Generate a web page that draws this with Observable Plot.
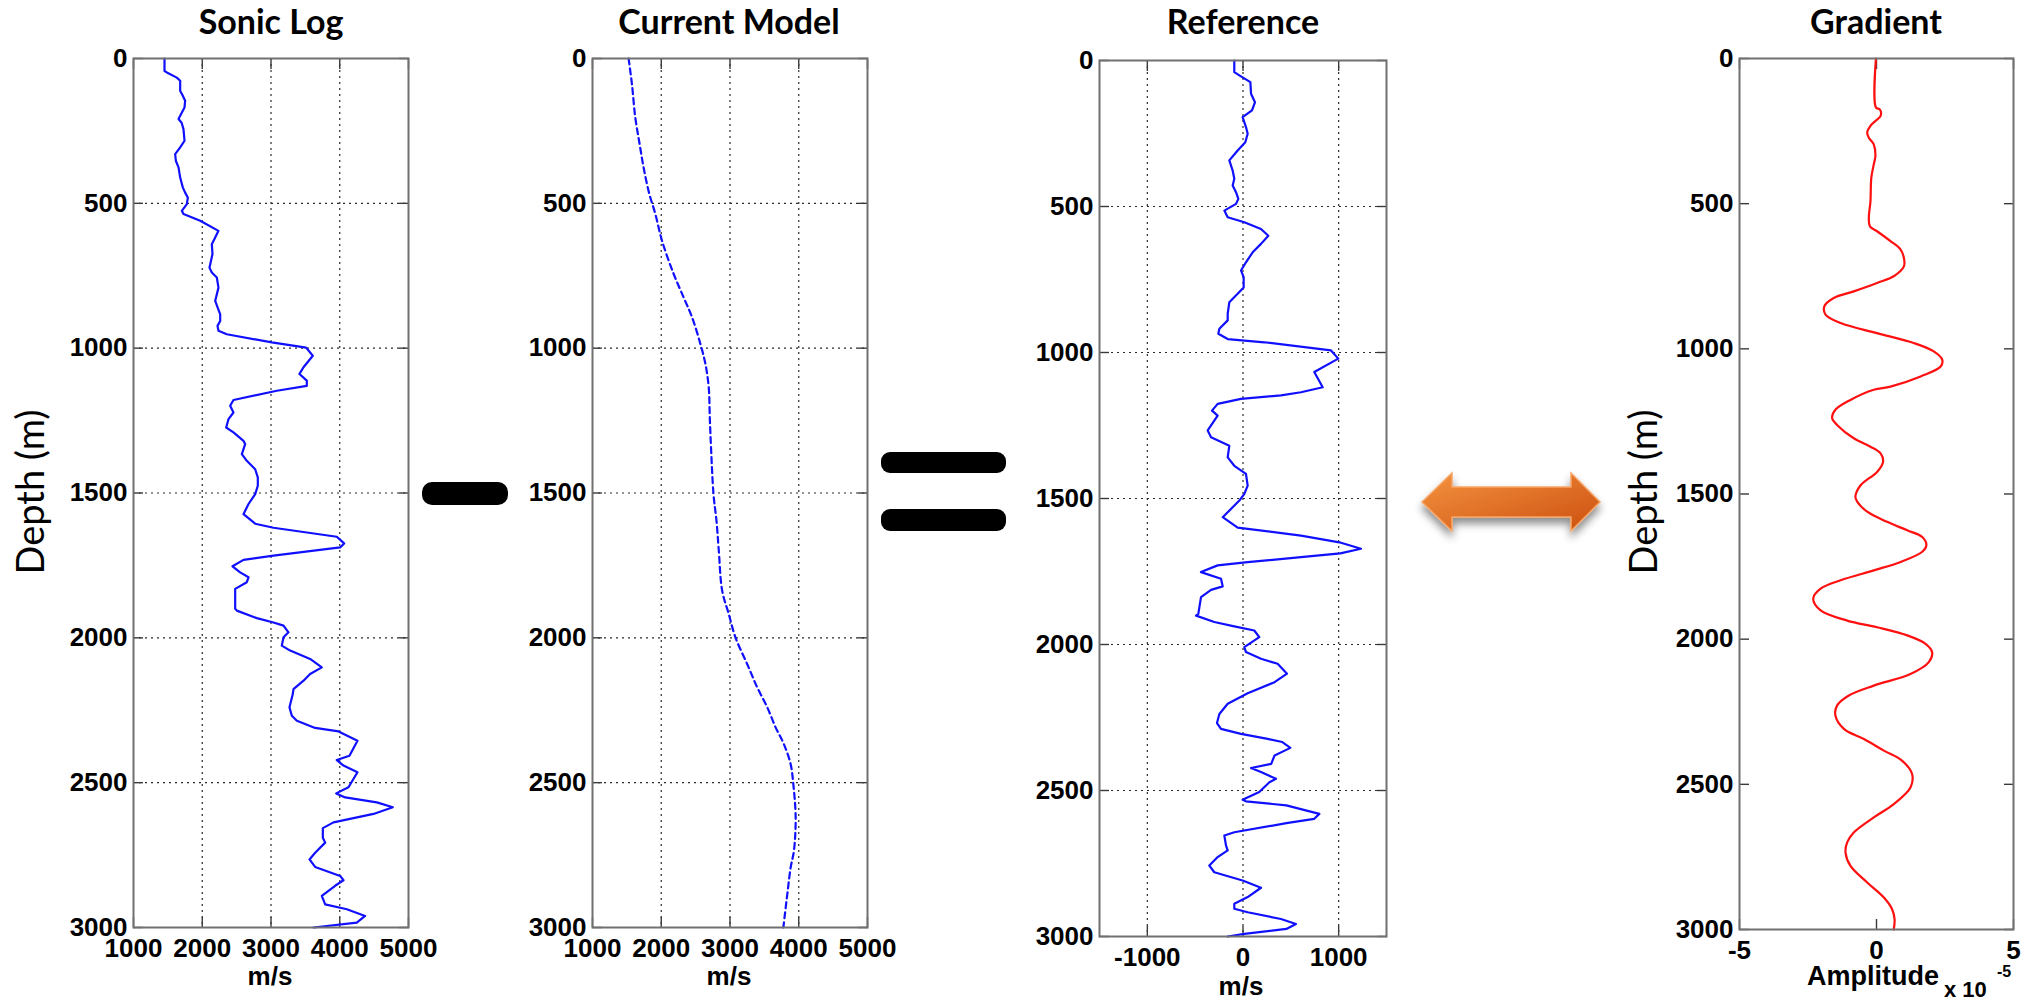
<!DOCTYPE html>
<html>
<head>
<meta charset="utf-8">
<script src="https://cdn.jsdelivr.net/npm/d3@7"></script>
<script src="https://cdn.jsdelivr.net/npm/@observablehq/plot@0.6"></script>
<style>
  html, body { margin: 0; padding: 0; background: #fff; }
  #page { position: relative; width: 2028px; height: 1004px; overflow: hidden; background: #fff; }
  .panel { position: absolute; top: 0; }
  #overlay { position: absolute; left: 0; top: 0; pointer-events: none; }
</style>
</head>
<body>
<div id="page"></div>
<script>
// ---- Axis ticks -------------------------------------------------------------
const depthTicks = [0, 500, 1000, 1500, 2000, 2500, 3000];
const depthGrid = [500, 1000, 1500, 2000, 2500];
const velocityTicks = [1000, 2000, 3000, 4000, 5000];
const velocityGrid = [2000, 3000, 4000];
const residualTicks = [-1000, 0, 1000];
const amplitudeTicks = [-5, 0, 5];

// ---- Sonic log (depth m, velocity m/s) -------------------------------------
const sonicDepth = [0, 43, 48, 66, 77, 112, 125, 146, 169, 198, 209, 222, 244, 284, 307, 330, 353, 376, 411, 445, 463, 480, 503, 526, 537, 560, 595, 618, 641, 675, 722, 739, 756, 791, 837, 883, 906, 923, 940, 952, 980, 998, 1026, 1066, 1089, 1112, 1130, 1147, 1179, 1199, 1222, 1245, 1274, 1291, 1320, 1331, 1366, 1389, 1418, 1446, 1475, 1504, 1538, 1573, 1606, 1620, 1651, 1674, 1688, 1716, 1731, 1753, 1774, 1791, 1808, 1831, 1900, 1906, 1932, 1947, 1958, 1981, 1998, 2027, 2044, 2073, 2102, 2125, 2148, 2177, 2194, 2240, 2269, 2286, 2311, 2323, 2355, 2407, 2422, 2441, 2464, 2516, 2537, 2551, 2568, 2585, 2608, 2637, 2657, 2690, 2707, 2742, 2765, 2791, 2822, 2837, 2856, 2891, 2920, 2937, 2960, 2983, 3000];
const sonicVelocity = [1451, 1451, 1485, 1630, 1679, 1679, 1710, 1751, 1742, 1679, 1655, 1700, 1727, 1742, 1679, 1606, 1616, 1655, 1679, 1717, 1751, 1790, 1776, 1703, 1727, 1970, 2236, 2188, 2139, 2149, 2105, 2139, 2212, 2236, 2188, 2261, 2261, 2222, 2236, 2357, 3012, 3511, 3608, 3473, 3414, 3521, 3521, 3085, 2454, 2406, 2454, 2382, 2348, 2454, 2600, 2624, 2576, 2648, 2770, 2808, 2808, 2770, 2673, 2600, 2770, 3036, 3957, 4064, 4006, 3036, 2600, 2440, 2551, 2673, 2648, 2479, 2479, 2503, 2794, 3036, 3182, 3254, 3182, 3157, 3279, 3569, 3739, 3569, 3473, 3327, 3317, 3269, 3303, 3376, 3642, 3982, 4258, 4141, 3957, 4054, 4258, 4127, 3948, 4079, 4539, 4772, 4491, 3909, 3754, 3754, 3788, 3642, 3560, 3642, 4006, 4054, 3933, 3739, 3788, 4103, 4369, 4248, 3620];

// ---- Current (smooth) velocity model -------------------------------------
const modelDepth = [0, 89, 203, 295, 376, 467, 537, 629, 744, 825, 894, 986, 1055, 1136, 1239, 1354, 1504, 1600, 1699, 1837, 1918, 1999, 2091, 2171, 2240, 2309, 2367, 2436, 2505, 2620, 2735, 2793, 2884, 3000];
const modelVelocity = [1525, 1574, 1622, 1685, 1743, 1826, 1914, 2011, 2181, 2326, 2449, 2570, 2643, 2691, 2706, 2726, 2760, 2805, 2837, 2886, 2982, 3080, 3251, 3396, 3542, 3663, 3784, 3882, 3921, 3955, 3930, 3882, 3834, 3776];

// ---- Reference residual: sonic log minus current model -------------------
const referenceDepth = [0, 40, 51, 74, 114, 143, 171, 194, 228, 251, 280, 308, 342, 377, 405, 428, 451, 474, 491, 514, 537, 554, 577, 600, 628, 657, 691, 719, 742, 777, 799, 828, 868, 890, 919, 936, 954, 965, 993, 1021, 1067, 1119, 1136, 1147, 1159, 1176, 1199, 1216, 1267, 1290, 1319, 1359, 1388, 1416, 1456, 1484, 1507, 1564, 1600, 1627, 1650, 1672, 1688, 1701, 1718, 1729, 1752, 1775, 1801, 1813, 1838, 1895, 1901, 1923, 1938, 1952, 1975, 2009, 2026, 2049, 2066, 2100, 2129, 2167, 2203, 2238, 2269, 2289, 2306, 2323, 2334, 2354, 2380, 2409, 2423, 2437, 2460, 2472, 2505, 2532, 2537, 2551, 2580, 2597, 2612, 2643, 2654, 2688, 2705, 2728, 2757, 2780, 2808, 2833, 2865, 2888, 2905, 2917, 2940, 2957, 2974, 2991, 3000];
const referenceVelocity = [-91, -91, -38, 77, 84, 125, 94, -4, 31, 49, 24, -56, -143, -108, -91, -108, -73, -49, -73, -195, -160, 14, 188, 265, 188, 101, 31, -21, 7, 7, -56, -143, -160, -160, -247, -258, -160, 223, 920, 996, 745, 833, 606, 397, -21, -265, -324, -265, -369, -334, -143, -160, -91, 31, 49, 14, -38, -212, -56, 606, 1007, 1233, 1017, 606, 49, -265, -439, -230, -212, -334, -439, -467, -491, -300, -91, 118, 170, 14, 31, 188, 362, 460, 330, 49, -160, -247, -272, -230, -21, 258, 411, 495, 330, 295, 84, 188, 345, 276, 170, -4, 31, 453, 798, 745, 453, -91, -195, -178, -160, -265, -352, -300, -4, 188, 49, -91, -91, 49, 397, 554, 453, 14, -160];

// ---- Gradient (amplitude in units of 1e-5) -------------------------------
const gradientDepth = [0, 169, 175, 198, 215, 232, 255, 273, 296, 336, 365, 411, 491, 549, 578, 595, 629, 658, 687, 716, 750, 773, 802, 825, 853, 882, 911, 946, 980, 1009, 1038, 1061, 1095, 1130, 1141, 1176, 1210, 1239, 1262, 1308, 1337, 1360, 1389, 1424, 1470, 1510, 1527, 1561, 1596, 1625, 1648, 1676, 1699, 1734, 1763, 1797, 1826, 1861, 1901, 1936, 1959, 1987, 2016, 2045, 2079, 2120, 2160, 2194, 2229, 2263, 2309, 2344, 2384, 2419, 2465, 2511, 2568, 2614, 2666, 2700, 2735, 2781, 2838, 2890, 2930, 2965, 3000];
const gradientAmplitude = [-0.02, -0.02, 0.12, 0.15, -0.04, -0.22, -0.34, -0.28, -0.1, -0.04, -0.1, -0.19, -0.22, -0.28, -0.24, 0.02, 0.51, 0.88, 1.0, 1.0, 0.63, 0.02, -0.83, -1.56, -1.9, -1.86, -1.31, 0.02, 1.36, 2.09, 2.4, 2.34, 1.61, 0.51, -0.1, -0.95, -1.5, -1.62, -1.44, -0.83, -0.22, 0.15, 0.24, 0.02, -0.58, -0.77, -0.7, -0.34, 0.39, 1.12, 1.67, 1.82, 1.67, 0.88, -0.1, -1.31, -2.04, -2.31, -2.04, -1.07, 0.02, 1.12, 1.79, 2.03, 1.91, 1.24, -0.1, -1.01, -1.44, -1.5, -1.19, -0.46, 0.27, 0.94, 1.3, 1.24, 0.63, -0.1, -0.83, -1.07, -1.13, -0.95, -0.34, 0.27, 0.57, 0.66, 0.63];

const zip = (depth, value) => depth.map((d, i) => ({d, v: value[i]}));

const tickFont = "'Liberation Sans', Arial, Helvetica, sans-serif";
const page = document.getElementById("page");

function panel({left, width, margin, xDomain, xTicks, xGrid, yGrid, rows, stroke, dash, curve}) {
  const [mt, mr, mb, ml] = margin;
  const tickStyle = {fill: "none", stroke: "#3a3a3a", strokeWidth: 1.4, label: null, tickSize: 10};
  const chart = Plot.plot({
    width, height: 1004,
    marginTop: mt, marginRight: mr, marginBottom: mb, marginLeft: ml,
    style: {background: "transparent", overflow: "visible", maxWidth: "none",
            fontFamily: tickFont, fontWeight: "bold", fontSize: "26px", color: "#000"},
    x: {domain: xDomain, label: null},
    y: {domain: [0, 3000], reverse: true, label: null},
    marks: [
      yGrid.length ? Plot.ruleY(yGrid, {stroke: "#2a2a2a", strokeWidth: 1.2, strokeDasharray: "2,4"}) : null,
      xGrid.length ? Plot.ruleX(xGrid, {stroke: "#2a2a2a", strokeWidth: 1.2, strokeDasharray: "2,4"}) : null,
      // inward tick marks on all four sides
      Plot.axisY(depthTicks, {...tickStyle, anchor: "left", dx: 10}),
      Plot.axisY(depthTicks, {...tickStyle, anchor: "right", dx: -10}),
      Plot.axisX(xTicks, {...tickStyle, anchor: "bottom", dy: -10}),
      Plot.axisX(xTicks, {...tickStyle, anchor: "top", dy: 10}),
      // tick labels
      Plot.axisY(depthTicks, {anchor: "left", tickSize: 0, tickPadding: 6, fontSize: 26, fontWeight: "bold",
                              tickFormat: d => String(d), label: null}),
      Plot.axisX(xTicks, {anchor: "bottom", tickSize: 0, tickPadding: 11, fontSize: 26, fontWeight: "bold",
                          tickFormat: d => String(d), label: null}),
      Plot.line(rows, {x: "v", y: "d", stroke, strokeWidth: 2.2, strokeDasharray: dash, curve}),
      Plot.frame({stroke: "#707070", strokeWidth: 2})
    ]
  });
  const holder = document.createElement("div");
  holder.className = "panel";
  holder.style.left = left + "px";
  holder.style.width = width + "px";
  holder.appendChild(chart);
  page.appendChild(holder);
}

panel({left: 0, width: 440, margin: [58, 32, 77, 133],
       xDomain: [1000, 5000], xTicks: velocityTicks, xGrid: velocityGrid, yGrid: depthGrid,
       rows: zip(sonicDepth, sonicVelocity), stroke: "#1010ff", dash: null, curve: "linear"});

panel({left: 480, width: 420, margin: [58, 33, 77, 112],
       xDomain: [1000, 5000], xTicks: velocityTicks, xGrid: velocityGrid, yGrid: depthGrid,
       rows: zip(modelDepth, modelVelocity), stroke: "#1010ff", dash: "6,4", curve: "catmull-rom"});

panel({left: 980, width: 440, margin: [60, 34, 68, 119],
       xDomain: [-1500, 1500], xTicks: residualTicks, xGrid: residualTicks, yGrid: depthGrid,
       rows: zip(referenceDepth, referenceVelocity), stroke: "#1010ff", dash: null, curve: "linear"});

panel({left: 1640, width: 388, margin: [58, 15, 75, 99],
       xDomain: [-5, 5], xTicks: amplitudeTicks, xGrid: [], yGrid: [],
       rows: zip(gradientDepth, gradientAmplitude), stroke: "#ff1010", dash: null, curve: "catmull-rom"});

// ---- Titles, axis labels and the operator symbols between the panels ------
const NS = "http://www.w3.org/2000/svg";
const overlay = document.createElementNS(NS, "svg");
overlay.setAttribute("id", "overlay");
overlay.setAttribute("width", 2028);
overlay.setAttribute("height", 1004);
overlay.innerHTML = `
  <defs>
    <linearGradient id="arrowFill" x1="0" y1="0" x2="1" y2="1">
      <stop offset="0" stop-color="#f4933f"/>
      <stop offset="1" stop-color="#cc4f10"/>
    </linearGradient>
    <filter id="arrowShadow" x="-20%" y="-50%" width="140%" height="220%">
      <feDropShadow dx="0" dy="6" stdDeviation="4" flood-color="#000" flood-opacity="0.45"/>
    </filter>
  </defs>
  <g font-family="Lato, 'Open Sans', sans-serif" font-weight="700" font-size="34" text-anchor="middle" fill="#000">
    <text x="271" y="34">Sonic Log</text>
    <text x="729" y="34">Current Model</text>
    <text x="1243" y="34">Reference</text>
    <text x="1876" y="34">Gradient</text>
  </g>
  <g font-family="Lato, 'Open Sans', sans-serif" font-size="38" text-anchor="middle" fill="#000">
    <text transform="translate(44,492) rotate(-90)">Depth (m)</text>
    <text transform="translate(1657,492) rotate(-90)">Depth (m)</text>
  </g>
  <g font-family="${tickFont}" font-weight="700" fill="#000">
    <text x="270" y="985" font-size="26" text-anchor="middle">m/s</text>
    <text x="729" y="985" font-size="26" text-anchor="middle">m/s</text>
    <text x="1241" y="995" font-size="26" text-anchor="middle">m/s</text>
    <text x="1807" y="985" font-size="27">Amplitude</text>
    <text x="1944" y="997" font-size="22">x 10</text>
    <text x="1997" y="977" font-size="16">-5</text>
  </g>
  <rect x="422" y="482" width="86" height="23" rx="10" fill="#000"/>
  <rect x="881" y="452" width="125" height="21" rx="9" fill="#000"/>
  <rect x="881" y="509" width="125" height="22" rx="9" fill="#000"/>
  <polygon filter="url(#arrowShadow)" fill="url(#arrowFill)" stroke="#f7a565" stroke-width="1.5"
    points="1422,502 1452,473 1452,487 1571,487 1571,473 1600,502 1571,531 1571,517 1452,517 1452,531"/>
`;
page.appendChild(overlay);
</script>
</body>
</html>
